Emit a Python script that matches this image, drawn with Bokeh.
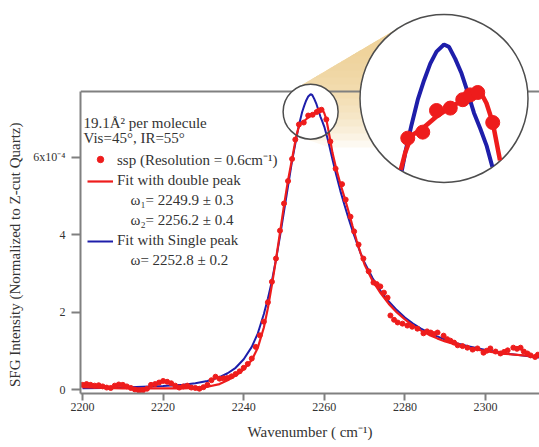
import math
from bokeh.plotting import figure
from bokeh.models import FixedTicker, Label, Legend, LegendItem
from bokeh.embed import file_html
from bokeh.resources import INLINE

# ---------------- data ----------------
x_ticks = [2200, 2220, 2240, 2260, 2280, 2300]
y_ticks = [0, 2, 4, 6]
y_tick_labels = {6: "6x10\u207b\u2074"}

# measured ssp spectrum
ssp_x = [2200, 2201, 2202, 2203, 2204, 2205, 2206, 2207, 2208, 2209,
         2210, 2211, 2212, 2213, 2214, 2215, 2216, 2217, 2218, 2219,
         2220, 2221, 2222, 2223, 2224, 2225, 2226, 2227, 2228, 2229,
         2230, 2231, 2232, 2233, 2234, 2235, 2236, 2237, 2238, 2239,
         2240, 2241, 2242, 2243, 2244, 2245, 2246, 2247, 2248, 2249,
         2250, 2251, 2252, 2252.8, 2253.7, 2254.9, 2256.0, 2257.1, 2258.1, 2258.7,
         2259.3, 2260.5, 2261.5, 2262.8, 2264.4, 2265.3, 2266.5, 2267.4, 2268.5, 2269.7,
         2271.0, 2272.2, 2273.0, 2273.9, 2274.8, 2275.7, 2276.4, 2277.3, 2278.2, 2279.4,
         2280.6, 2281.8, 2283.1, 2284.6, 2285.5, 2286.4, 2287.2, 2288.1, 2289.6, 2290.5,
         2291.3, 2292.2, 2293.1, 2294.3, 2295.5, 2296.8, 2298.0, 2299.5, 2300.3, 2301.2,
         2302.5, 2303.7, 2304.6, 2305.5, 2306.9, 2307.8, 2308.7, 2309.5, 2310.4, 2311.2,
         2312.3, 2313.0]
ssp_y = [0.12, 0.14, 0.12, 0.10, 0.11, 0.08, 0.05, 0.04, 0.10, 0.13,
         0.12, 0.08, 0.04, 0.00, -0.03, -0.02, 0.02, 0.12, 0.14, 0.18,
         0.22, 0.20, 0.16, 0.10, 0.05, 0.08, 0.10, 0.05, 0.04, 0.02,
         0.06, 0.12, 0.24, 0.33, 0.28, 0.29, 0.30, 0.34, 0.40, 0.47,
         0.56, 0.66, 0.80, 1.10, 1.40, 1.75, 2.25, 2.78, 3.38, 4.10,
         4.80, 5.38, 5.95, 6.45, 6.84, 6.89, 7.07, 7.09, 7.16, 7.20,
         7.22, 6.97, 6.40, 5.70, 5.30, 4.90, 4.46, 4.08, 3.74, 3.38,
         3.05, 2.76, 2.72, 2.66, 2.50, 2.37, 1.91, 1.80, 1.73, 1.70,
         1.65, 1.62, 1.57, 1.45, 1.50, 1.47, 1.43, 1.47, 1.39, 1.30,
         1.26, 1.21, 1.14, 1.12, 1.08, 1.03, 1.06, 0.95, 1.00, 1.06,
         0.98, 0.93, 0.97, 1.01, 1.08, 1.05, 1.08, 0.98, 0.93, 0.88,
         0.84, 0.90]

# fit with double peak (red)
fit2_x = [2200, 2205, 2210, 2215, 2220, 2225, 2228, 2231, 2234, 2236,
          2238, 2240, 2242, 2243.5, 2245, 2246, 2247, 2248, 2249, 2250,
          2251, 2252, 2253, 2253.5, 2254, 2255, 2256, 2257, 2258, 2259,
          2259.6, 2260, 2260.5, 2261, 2261.5, 2262, 2263, 2264, 2265, 2266,
          2267, 2268, 2269, 2270, 2272, 2274, 2276, 2278, 2280, 2282,
          2284, 2286, 2288, 2290, 2293, 2296, 2300, 2305, 2314]
fit2_y = [0.06, 0.04, 0.03, 0.03, 0.03, 0.03, 0.04, 0.07, 0.14, 0.24,
          0.36, 0.52, 0.76, 1.08, 1.60, 2.10, 2.70, 3.35, 4.05, 4.75,
          5.40, 5.95, 6.52, 6.72, 6.86, 6.93, 7.02, 7.09, 7.15, 7.20,
          7.21, 7.13, 6.97, 6.70, 6.42, 6.12, 5.68, 5.30, 4.96, 4.60,
          4.22, 3.85, 3.52, 3.22, 2.80, 2.48, 2.21, 1.99, 1.81, 1.65,
          1.52, 1.41, 1.32, 1.24, 1.15, 1.07, 0.99, 0.92, 0.84]

# fit with single peak (blue)
fit1_x = [2200, 2205, 2210, 2215, 2220, 2225, 2228, 2231, 2234, 2236,
          2238, 2240, 2242, 2243.5, 2245, 2246, 2247, 2248, 2249, 2250,
          2251, 2252, 2253, 2253.5, 2254, 2254.5, 2255, 2255.5, 2256, 2256.6,
          2257, 2257.5, 2258, 2258.5, 2259, 2259.5, 2260, 2261, 2262, 2263,
          2264, 2265, 2266, 2267, 2268, 2269, 2270, 2272, 2274, 2276,
          2278, 2280, 2282, 2284, 2286, 2288, 2290, 2293, 2296, 2300,
          2305, 2314]
fit1_y = [0.03, 0.04, 0.05, 0.07, 0.09, 0.12, 0.16, 0.22, 0.32, 0.42,
          0.56, 0.78, 1.10, 1.45, 1.95, 2.35, 2.80, 3.35, 3.95, 4.60,
          5.25, 5.90, 6.45, 6.72, 6.95, 7.16, 7.32, 7.46, 7.56, 7.62,
          7.60, 7.50, 7.38, 7.22, 7.05, 6.92, 6.78, 6.40, 5.95, 5.52,
          5.12, 4.76, 4.42, 4.10, 3.80, 3.52, 3.27, 2.87, 2.54, 2.27,
          2.05, 1.86, 1.70, 1.57, 1.46, 1.37, 1.29, 1.19, 1.11, 1.02,
          0.93, 0.82]

legend_labels = ["ssp (Resolution = 0.6cm\u207b\u00b9)",
                 "Fit with double peak",
                 "\u2002\u2009\u2009\u03c9\u2081= 2249.9 \u00b1 0.3",
                 "\u2002\u2009\u2009\u03c9\u2082= 2256.2 \u00b1 0.4",
                 "Fit with Single peak",
                 "\u2002\u2009\u2009\u03c9= 2252.8 \u00b1 0.2"]
note_lines = ["19.1\u00c5\u00b2 per molecule", "Vis=45\u00b0, IR=55\u00b0"]
x_label = "Wavenumber ( cm\u207b\u00b9)"
y_label = "SFG Intensity (Normalized to Z-cut Quartz)"

# ---------------- layout / style ----------------
FONT = "Liberation Serif"
TXT = "#333333"
AX = "#808080"
RED = "#ee1c1c"
BLUE = "#1e1eaa"
TAN = "#eccb8c"
RING = "#4d4d4d"

X0, SX, FW = 2199.5, 4.03, 459      # x start, px per unit, frame width
Y0, SY, FH = -0.103, 38.75, 393     # y start, px per unit, frame height
Y_TOP = 7.69                        # top frame line
LEFT, BOTTOM = 80, 54
# trailing blank width that moves the rotated y label down to the axis' middle
Y_LABEL_PAD = "\u2003" * 7 + "\u2002" + "\u2009"

SMALL = (2256.6, 7.17)
R_S = 27.5
BIG = (2289.7, 7.51)
R_B = 84.0
MAG = 3.1


def to_u(X):
    return (X - X0) * SX


def to_v(Y):
    return (Y - Y0) * SY


def from_u(u):
    return X0 + u / SX


def from_v(v):
    return Y0 + v / SY


p = figure(width=LEFT + FW, height=FH + BOTTOM,
           x_range=(X0, X0 + FW / SX), y_range=(Y0, Y0 + FH / SY),
           output_backend="svg", toolbar_location=None,
           min_border_left=LEFT, min_border_right=0,
           min_border_top=0, min_border_bottom=BOTTOM)
p.outline_line_color = None
p.grid.visible = False
p.background_fill_color = "white"
p.border_fill_color = "white"

# ---------- magnifier wedge (outer tangents of the two circles) ----------
c1 = (to_u(SMALL[0]), to_v(SMALL[1]))
c2 = (to_u(BIG[0]), to_v(BIG[1]))
ddx, ddy = c2[0] - c1[0], c2[1] - c1[1]
D = math.hypot(ddx, ddy)
th = math.atan2(ddy, ddx)
ph = math.acos((R_B - R_S) / D)
tp = {}
for sgn in (-1, 1):
    n = (math.cos(th + sgn * ph), math.sin(th + sgn * ph))
    tp[sgn] = ((c1[0] - R_S * n[0], c1[1] - R_S * n[1]),
               (c2[0] - R_B * n[0], c2[1] - R_B * n[1]))
wedge = [tp[-1][0], tp[-1][1], tp[1][1], tp[1][0]]


def clip_above(poly, vmin):
    out = []
    m = len(poly)
    for i in range(m):
        a = poly[i]
        b = poly[(i + 1) % m]
        ina, inb = a[1] >= vmin, b[1] >= vmin
        if ina:
            out.append(a)
        if ina != inb:
            t = (vmin - a[1]) / (b[1] - a[1])
            out.append((a[0] + t * (b[0] - a[0]), vmin))
    return out


for k in range(14):
    py = 56 + 7 * k                 # screen row from page top
    vmin = FH - py
    poly = clip_above(wedge, vmin)
    if len(poly) >= 3:
        p.patch([from_u(q[0]) for q in poly], [from_v(q[1]) for q in poly],
                fill_color=TAN, fill_alpha=0.12, line_color=None)

# ---------- top frame line ----------
p.line([X0, X0 + FW / SX], [Y_TOP, Y_TOP], line_color=AX, line_width=2)

# small circle background
p.scatter([SMALL[0]], [SMALL[1]], size=2 * R_S, marker="circle",
          fill_color="white", line_color=None)

# ---------- main data ----------
r_blue = p.line(fit1_x, fit1_y, line_color=BLUE, line_width=2)
r_red = p.line(fit2_x, fit2_y, line_color=RED, line_width=2.2)
r_pts = p.scatter(ssp_x, ssp_y, size=5, marker="circle",
                  fill_color=RED, line_color=RED)
dummy = p.line([X0], [Y0], line_alpha=0)

# ---------- big magnifier circle ----------
p.scatter([BIG[0]], [BIG[1]], size=2 * R_B, marker="circle",
          fill_color="white", line_color=RING, line_width=1.5)


def magnify(xs, ys):
    us = [c2[0] + MAG * (to_u(x) - c1[0]) for x in xs]
    vs = [c2[1] + MAG * (to_v(y) - c1[1]) for y in ys]
    return us, vs


def clip_line_circle(us, vs, cu, cv, R):
    pieces, cur = [], []
    for i in range(len(us) - 1):
        ax, ay, bx, by = us[i], vs[i], us[i + 1], vs[i + 1]
        dx, dy = bx - ax, by - ay
        fx, fy = ax - cu, ay - cv
        a = dx * dx + dy * dy
        b = 2 * (fx * dx + fy * dy)
        c = fx * fx + fy * fy - R * R
        disc = b * b - 4 * a * c
        if a == 0 or disc <= 0:
            if cur:
                pieces.append(cur)
                cur = []
            continue
        sq = math.sqrt(disc)
        t0 = max(0.0, (-b - sq) / (2 * a))
        t1 = min(1.0, (-b + sq) / (2 * a))
        if t0 >= t1:
            if cur:
                pieces.append(cur)
                cur = []
            continue
        pa = (ax + t0 * dx, ay + t0 * dy)
        pb = (ax + t1 * dx, ay + t1 * dy)
        if cur and t0 == 0.0:
            cur.append(pb)
        else:
            if cur:
                pieces.append(cur)
            cur = [pa, pb]
        if t1 < 1.0:
            pieces.append(cur)
            cur = []
    if cur:
        pieces.append(cur)
    xs = [[from_u(q[0]) for q in pc] for pc in pieces]
    ys = [[from_v(q[1]) for q in pc] for pc in pieces]
    return xs, ys


bu, bv = magnify(fit1_x, fit1_y)
mx, my = clip_line_circle(bu, bv, c2[0], c2[1], R_B - 0.5)
p.multi_line(mx, my, line_color=BLUE, line_width=4)

ru, rv = magnify(fit2_x, fit2_y)
mx, my = clip_line_circle(ru, rv, c2[0], c2[1], R_B - 0.5)
p.multi_line(mx, my, line_color=RED, line_width=4.5)

pu, pv = magnify(ssp_x, ssp_y)
in_x, in_y = [], []
for u, v in zip(pu, pv):
    if math.hypot(u - c2[0], v - c2[1]) <= R_B - 7:
        in_x.append(from_u(u))
        in_y.append(from_v(v))
p.scatter(in_x, in_y, size=14, marker="circle", fill_color=RED, line_color=RED)

# small circle outline
p.scatter([SMALL[0]], [SMALL[1]], size=2 * R_S, marker="circle",
          fill_color=None, line_color=RING, line_width=1.5)

# ---------- axes ----------
p.xaxis.ticker = FixedTicker(ticks=x_ticks)
p.yaxis.ticker = FixedTicker(ticks=y_ticks)
p.yaxis.major_label_overrides = y_tick_labels
p.yaxis.bounds = (Y0, Y_TOP)
p.xaxis.axis_label = x_label
p.yaxis.axis_label = y_label + Y_LABEL_PAD
for ax in (p.xaxis[0], p.yaxis[0]):
    ax.axis_line_color = AX
    ax.axis_line_width = 2
    ax.major_tick_line_color = AX
    ax.major_tick_line_width = 2
    ax.minor_tick_line_color = None
    ax.major_tick_in = 0
    ax.major_label_text_font = FONT
    ax.major_label_text_font_size = "12px"
    ax.major_label_text_color = TXT
    ax.axis_label_text_font = FONT
    ax.axis_label_text_font_size = "15px"
    ax.axis_label_text_font_style = "normal"
    ax.axis_label_text_color = TXT
    ax.axis_label_standoff = 10
p.xaxis.major_tick_out = 7
p.xaxis.major_label_standoff = 2
p.yaxis.major_tick_out = 9
p.yaxis.major_label_standoff = 6
p.yaxis.axis_label_standoff = 7

# ---------- legend ----------
items = [LegendItem(label=legend_labels[0], renderers=[r_pts]),
         LegendItem(label=legend_labels[1], renderers=[r_red]),
         LegendItem(label=legend_labels[2], renderers=[dummy]),
         LegendItem(label=legend_labels[3], renderers=[dummy]),
         LegendItem(label=legend_labels[4], renderers=[r_blue]),
         LegendItem(label=legend_labels[5], renderers=[dummy])]
legend = Legend(items=items, location=(7, 124), padding=0, margin=0,
                spacing=3, glyph_width=26, glyph_height=16, label_height=16,
                label_standoff=4, label_text_font=FONT,
                label_text_font_size="15px", label_text_color=TXT,
                border_line_color=None, background_fill_alpha=0)
p.add_layout(legend)

# ---------- texts ----------
for txt, yy in zip(note_lines, [271, 256]):
    p.add_layout(Label(x=3, y=yy, x_units="screen", y_units="screen", text=txt,
                       text_font=FONT, text_font_size="15px", text_color=TXT,
                       text_baseline="alphabetic"))

open("out.html", "w").write(file_html(p, INLINE))
